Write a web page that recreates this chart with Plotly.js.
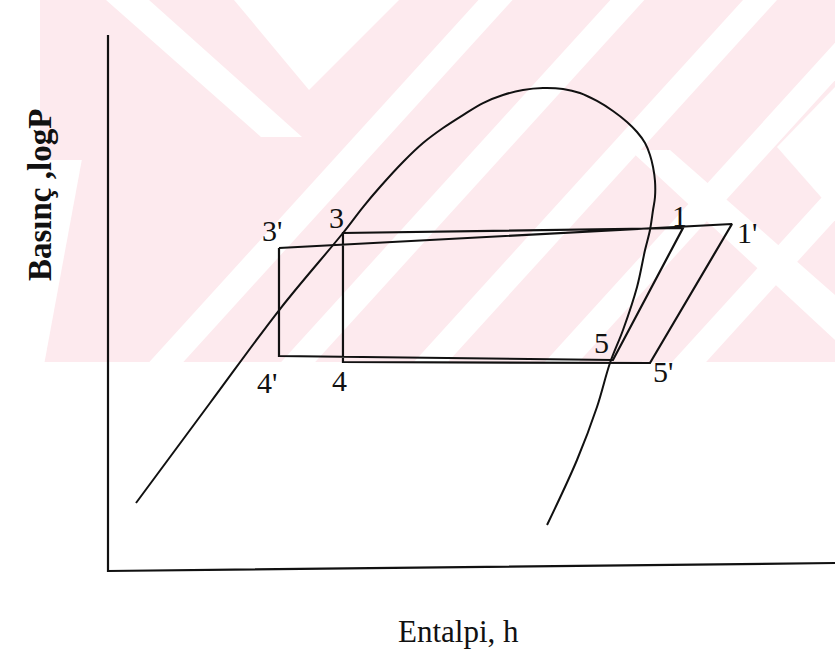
<!DOCTYPE html>
<html>
<head>
<meta charset="utf-8">
<script src="https://cdn.plot.ly/plotly-3.0.1.min.js"></script>
<style>
  html, body { margin: 0; padding: 0; background: #ffffff; }
  #chart { width: 835px; height: 654px; }
</style>
</head>
<body>
<div id="chart"></div>
<script>
// Saturation dome: liquid line, critical region and vapour line (h vs logP, arbitrary units)
const domeH = [3.85, 14.03, 23.66, 32.32, 35.08, 37.41, 40.58, 43.33, 46.08, 48.83, 51.58, 54.33,
               57.08, 59.83, 62.59, 64.92, 67.26, 69.46, 71.39, 72.77, 73.87, 74.55, 74.97, 75.24,
               75.24, 74.97, 74.55, 73.87, 72.77, 70.84, 69.05, 67.26, 64.51, 60.39];
const domeP = [12.69, 31.34, 48.88, 63.06, 67.91, 71.64, 76.31, 79.85, 82.65, 85.07, 87.31, 88.81,
               89.74, 90.11, 89.93, 89.18, 87.69, 85.82, 83.77, 81.90, 79.85, 77.61, 75.37, 72.76,
               69.78, 67.35, 63.62, 59.89, 52.99, 44.96, 38.81, 30.60, 20.71, 8.58];

// Cycle state points, in the order the outline is traced
const stateNames = ["3'", "1'", "5'", "4", "3", "1", "5", "4'"];
const stateH = [23.52, 85.83, 74.55, 32.32, 32.32, 79.09, 69.46, 23.52];
const stateP = [60.26, 64.74, 38.81, 38.99, 63.06, 63.99, 39.37, 40.11];

// Axis extents
const hMax = 100;
const pMax = 100;
const axisEndRise = 1.49;   // the drawn enthalpy axis rises slightly to the right

// Label placement around each state point (pixels)
const labelShift = {
  "3'": [-7, 18], "1'": [15, -8], "5'": [13, -9], "4": [-3, -18],
  "3": [-6, 16], "1": [-3, 13], "5": [-11, 17], "4'": [-12, -26]
};

const W = 835, H = 654;
const M = { l: 90, r: 0, t: 20, b: 70 };
const ink = '#111111';
const serif = 'Liberation Serif, Times New Roman, serif';

// background watermark helpers (pixel -> paper)
function px(x) { return (x - M.l) / (W - M.l - M.r); }
function py(y) { return (H - M.b - y) / (H - M.t - M.b); }
function poly(pts, color) {
  const d = pts.map((p, i) => (i ? 'L' : 'M') + px(p[0]).toFixed(4) + ',' + py(p[1]).toFixed(4)).join(' ') + ' Z';
  return { type: 'path', xref: 'paper', yref: 'paper', path: d, fillcolor: color,
           line: { width: 0 }, layer: 'below' };
}
const pink = '#fdeaee', white = '#ffffff';
const wm = [poly([[40, 0], [835, 0], [835, 362], [40, 362]], pink)];
// diagonal white bands rising to the right
[545, 690, 836, 980, 1120].forEach(c => {
  const y0 = -5, y1 = 367, hw = 17;
  wm.push(poly([[(c - y0) / 1.1 - hw, y0], [(c - y0) / 1.1 + hw, y0],
                [(c - y1) / 1.1 + hw, y1], [(c - y1) / 1.1 - hw, y1]], white));
});
// lower-left edge of the pattern
wm.push(poly([[0, 160], [(415 - 160) / 1.1 - 150, 160], [(415 - 367) / 1.1, 367], [0, 367]], white));
// left band falling to the right
wm.push(poly([[106, 0], [149, 0], [302, 137], [261, 137]], white));
// top notch
wm.push(poly([[234, 0], [399, 0], [309, 90]], white));
// right band falling to the right and edge notch
wm.push(poly([[630, 150], [670, 150], [835, 295], [835, 340]], white));
wm.push(poly([[835, 87], [777, 147], [835, 213]], white));

const traces = [
  { // axes
    x: [0, 0, hMax], y: [pMax, 0, axisEndRise], mode: 'lines',
    line: { color: ink, width: 2.2 }, hoverinfo: 'skip', showlegend: false
  },
  { // saturation curve
    x: domeH, y: domeP, mode: 'lines',
    line: { color: ink, width: 2, shape: 'spline', smoothing: 1 },
    hoverinfo: 'skip', showlegend: false
  },
  { // refrigeration cycle outline
    x: stateH.concat([stateH[0]]), y: stateP.concat([stateP[0]]), mode: 'lines',
    line: { color: ink, width: 2.2 }, hoverinfo: 'skip', showlegend: false
  }
];

const annotations = stateNames.map((n, i) => ({
  x: stateH[i], y: stateP[i], xref: 'x', yref: 'y', text: n, showarrow: false,
  xanchor: 'center', yanchor: 'middle',
  xshift: labelShift[n][0], yshift: labelShift[n][1],
  font: { family: serif, size: 30, color: ink }
}));
annotations.push({
  xref: 'paper', yref: 'paper', x: px(458), y: py(631), xanchor: 'center', yanchor: 'middle',
  text: 'Entalpi, h', showarrow: false,
  font: { family: serif, size: 31, color: ink }
});
annotations.push({
  xref: 'paper', yref: 'paper', x: px(40), y: py(195), xanchor: 'center', yanchor: 'middle',
  text: 'Basınç ,logP', showarrow: false, textangle: -90,
  font: { family: serif, size: 33, color: ink, weight: 'bold' }
});

const layout = {
  width: W, height: H, margin: M,
  paper_bgcolor: '#ffffff', plot_bgcolor: 'rgba(0,0,0,0)',
  xaxis: { range: [-2.476, 100], showgrid: false, zeroline: false, showticklabels: false, ticks: '', showline: false },
  yaxis: { range: [-2.425, 102.8], showgrid: false, zeroline: false, showticklabels: false, ticks: '', showline: false },
  shapes: wm,
  annotations: annotations,
  showlegend: false
};

Plotly.newPlot('chart', traces, layout, { displayModeBar: false, staticPlot: true });
</script>
</body>
</html>
